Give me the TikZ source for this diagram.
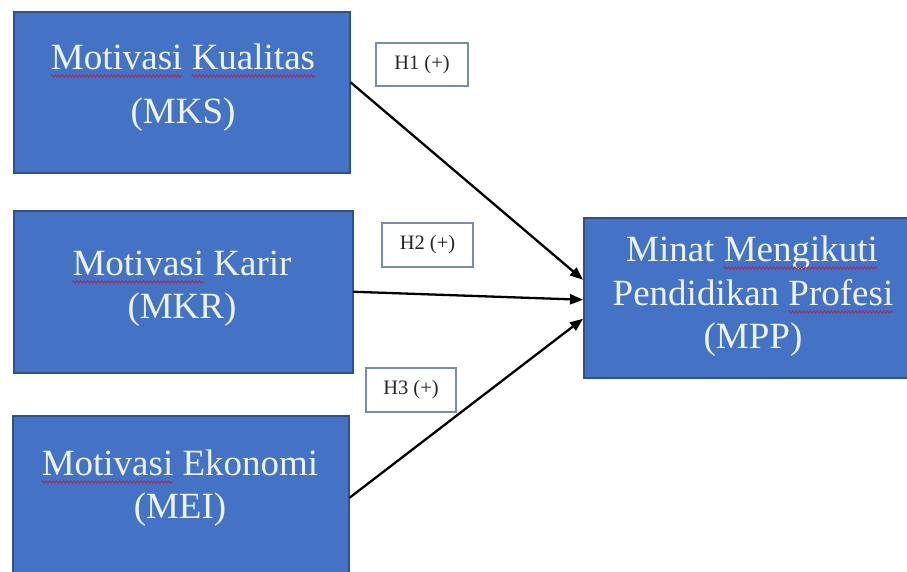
\documentclass[tikz,border=0pt]{standalone}
\usepackage{fontspec}
\setmainfont{Liberation Serif}
\usetikzlibrary{arrows.meta,decorations.pathmorphing}
\definecolor{boxblue}{HTML}{4472C4}
\definecolor{boxedge}{HTML}{2F528F}
\definecolor{txtw}{HTML}{EEF2FA}
\definecolor{lbledge}{HTML}{7A8CAA}
\definecolor{squigcol}{HTML}{9C2F5E}
\newcommand\bigfont{\fontsize{37}{44}\selectfont}
\newlength\wMot
\newlength\wMotS
\newlength\wKual
\newlength\wMinS
\newlength\wMeng
\newlength\wPenS
\newlength\wProf
\newlength\wzero
\newcommand\squig[3]{%
  \draw[wavy] ([xshift=#2,yshift=-7pt]#1.base west) -- ++(#3,0pt);}
\begin{document}
\settowidth\wMot{\bigfont Motivasi}%
\settowidth\wMotS{\bigfont Motivasi\space}%
\settowidth\wKual{\bigfont Kualitas}%
\settowidth\wMinS{\bigfont Minat\space}%
\settowidth\wMeng{\bigfont Mengikuti}%
\settowidth\wPenS{\bigfont Pendidikan\space}%
\settowidth\wProf{\bigfont Profesi}%
\setlength\wzero{0pt}%
\begin{tikzpicture}[x=1pt,y=-1pt,
  bigbox/.style={draw=boxedge, line width=1.5pt, fill=boxblue, inner sep=0pt, anchor=north west},
  tline/.style={text=txtw, font=\bigfont, inner sep=0pt, anchor=base},
  hbox/.style={draw=lbledge, line width=1.2pt, fill=white, font=\fontsize{20.5}{24}\selectfont,
    text=black!85, inner sep=0pt},
  wavy/.style={draw=squigcol, line width=1pt, decorate,
    decoration={snake, amplitude=1pt, segment length=3.5pt}},
  link/.style={-{Triangle[length=13pt,width=10pt]}, line width=2.3pt, black}]
\useasboundingbox (0,0) rectangle (907,571);
\clip (0,0) rectangle (907,571);
\fill[white] (0,0) rectangle (907,571);
% boxes
\node[bigbox, minimum width=336pt, minimum height=161pt] (mks) at (13,11) {};
\node[bigbox, minimum width=339pt, minimum height=162pt] (mkr) at (13,210) {};
\node[bigbox, minimum width=336pt, minimum height=170pt] (mei) at (12,415) {};
\node[bigbox, minimum width=340pt, minimum height=160pt] (mpp) at (583,217) {};
% texts
\node[tline] (mks1) at (183,69) {Motivasi Kualitas};
\node[tline] (mks2) at (183,123) {(MKS)};
\node[tline] (mkr1) at (182,275) {Motivasi Karir};
\node[tline] (mkr2) at (182,318) {(MKR)};
\node[tline] (mei1) at (180,475) {Motivasi Ekonomi};
\node[tline] (mei2) at (180,518) {(MEI)};
\node[tline] (mpp1) at (752,261) {Minat Mengikuti};
\node[tline] (mpp2) at (753,305) {Pendidikan Profesi};
\node[tline] (mpp3) at (753,348) {(MPP)};
% spell-check underlines
\squig{mks1}{\wzero}{\wMot}
\squig{mks1}{\wMotS}{\wKual}
\squig{mkr1}{\wzero}{\wMot}
\squig{mei1}{\wzero}{\wMot}
\squig{mpp1}{\wMinS}{\wMeng}
\squig{mpp2}{\wPenS}{\wProf}
% hypothesis labels
\node[hbox, minimum width=92pt, minimum height=43pt] (h1) at (422,64.5) {H1 (+)};
\node[hbox, minimum width=91pt, minimum height=44pt] (h2) at (427.5,245) {H2 (+)};
\node[hbox, minimum width=90pt, minimum height=44pt] (h3) at (411,390) {H3 (+)};
% paths
\draw[link] ([yshift=10pt]mks.east) -- ([yshift=18pt]mpp.west);
\draw[link] (mkr.east) -- ([yshift=-2pt]mpp.west);
\draw[link] ([yshift=3pt]mei.east) -- ([yshift=-21pt]mpp.west);
\end{tikzpicture}
\end{document}
